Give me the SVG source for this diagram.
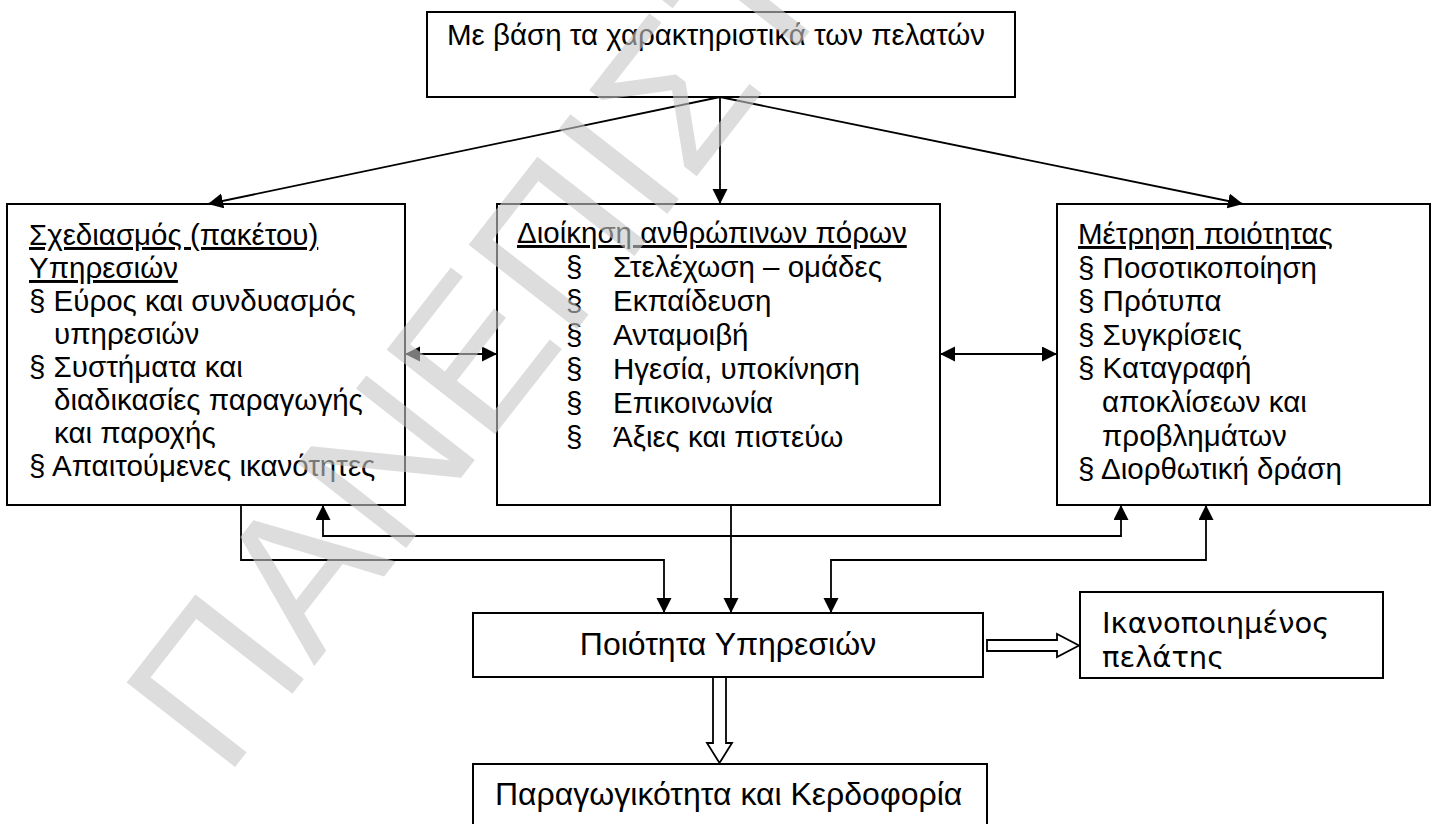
<svg xmlns="http://www.w3.org/2000/svg" width="1436" height="824" viewBox="0 0 1436 824">
<style>
.box{fill:#fff;stroke:#000;stroke-width:2}
.t{font-family:"Liberation Sans",Arial,sans-serif;font-size:29.5px;fill:#000}
.big{font-size:32px}
.u{text-decoration:underline}
.ik{font-family:"DejaVu Sans",sans-serif;font-size:29px;fill:#000}
.ln{fill:none;stroke:#000;stroke-width:1.8}
.hol{fill:#fff;stroke:#000;stroke-width:1.8;stroke-linejoin:miter}
.wm{font-family:"Liberation Sans",Arial,sans-serif;font-size:200px;fill:#c8c8c8;opacity:0.6}
</style>
<defs>
<marker id="ah" markerUnits="userSpaceOnUse" markerWidth="16" markerHeight="16" refX="15" refY="7.5" orient="auto-start-reverse">
<path d="M0,0 L15,7.5 L0,15 z" fill="#000"/>
</marker>
<clipPath id="clipIk"><rect x="1080" y="592" width="303" height="77"/></clipPath>
</defs>
<rect width="1436" height="824" fill="#fff"/>

<g id="node-customers">
<rect class="box" x="427" y="12" width="588" height="85"/>
<text class="t" x="447" y="45">Με βάση τα χαρακτηριστικά των πελατών</text>
</g>

<g id="node-design">
<rect class="box" x="7" y="204" width="398" height="301"/>
<text class="t u" x="29" y="245">Σχεδιασμός (πακέτου)</text>
<text class="t u" x="29" y="278">Υπηρεσιών</text>
<text class="t" x="29" y="311">§ Εύρος και συνδυασμός</text>
<text class="t" x="54" y="344">υπηρεσιών</text>
<text class="t" x="29" y="377">§ Συστήματα και</text>
<text class="t" x="54" y="410">διαδικασίες παραγωγής</text>
<text class="t" x="54" y="443">και παροχής</text>
<text class="t" x="29" y="476">§ Απαιτούμενες ικανότητες</text>
</g>

<g id="node-hr">
<rect class="box" x="497" y="204" width="443" height="301"/>
<text class="t u" x="517" y="243">Διοίκηση ανθρώπινων πόρων</text>
<text class="t" x="566" y="277">§</text><text class="t" x="613" y="277">Στελέχωση – ομάδες</text>
<text class="t" x="566" y="311">§</text><text class="t" x="613" y="311">Εκπαίδευση</text>
<text class="t" x="566" y="345">§</text><text class="t" x="613" y="345">Ανταμοιβή</text>
<text class="t" x="566" y="379">§</text><text class="t" x="613" y="379">Ηγεσία, υποκίνηση</text>
<text class="t" x="566" y="413">§</text><text class="t" x="613" y="413">Επικοινωνία</text>
<text class="t" x="566" y="447">§</text><text class="t" x="613" y="447">Άξιες και πιστεύω</text>
</g>

<g id="node-measure">
<rect class="box" x="1057" y="204" width="373" height="301"/>
<text class="t u" x="1078" y="244">Μέτρηση ποιότητας</text>
<text class="t" x="1078" y="278">§ Ποσοτικοποίηση</text>
<text class="t" x="1078" y="311">§ Πρότυπα</text>
<text class="t" x="1078" y="345">§ Συγκρίσεις</text>
<text class="t" x="1078" y="378">§ Καταγραφή</text>
<text class="t" x="1102" y="412">αποκλίσεων και</text>
<text class="t" x="1102" y="446">προβλημάτων</text>
<text class="t" x="1078" y="479">§ Διορθωτική δράση</text>
</g>

<g id="node-quality">
<rect class="box" x="473" y="613" width="510" height="64"/>
<text class="t big" x="728" y="655" text-anchor="middle">Ποιότητα Υπηρεσιών</text>
</g>

<g id="node-satisfied">
<rect class="box" x="1080" y="592" width="303" height="86"/>
<g clip-path="url(#clipIk)">
<text class="ik" x="1102" y="633">Ικανοποιημένος</text>
<text class="ik" x="1102" y="667">πελάτης</text>
</g>
</g>

<g id="node-productivity">
<rect class="box" x="473" y="764" width="514" height="62"/>
<text class="t big" x="495" y="805">Παραγωγικότητα και Κερδοφορία</text>
</g>

<g id="connectors">
<line class="ln" x1="720" y1="97" x2="208" y2="204" marker-end="url(#ah)"/>
<line class="ln" x1="720" y1="97" x2="720" y2="204" marker-end="url(#ah)"/>
<line class="ln" x1="720" y1="97" x2="1243" y2="204" marker-end="url(#ah)"/>
<line class="ln" x1="405" y1="354" x2="497" y2="354" marker-start="url(#ah)" marker-end="url(#ah)"/>
<line class="ln" x1="940" y1="354" x2="1057" y2="354" marker-start="url(#ah)" marker-end="url(#ah)"/>
<polyline class="ln" points="241,505 241,560 664,560 664,613" marker-end="url(#ah)"/>
<polyline class="ln" points="323,505 323,536 1121,536 1121,505" marker-start="url(#ah)" marker-end="url(#ah)"/>
<line class="ln" x1="731" y1="505" x2="731" y2="613" marker-end="url(#ah)"/>
<polyline class="ln" points="1206,505 1206,560 831,560 831,613" marker-start="url(#ah)" marker-end="url(#ah)"/>
<polygon class="hol" points="987,640 1057,640 1057,634 1079,645.5 1057,657 1057,651 987,651"/>
<polygon class="hol" points="713,677 726,677 726,743 732,743 719.5,763 707,743 713,743"/>
</g>

<text class="wm" transform="translate(225,780) rotate(-52)">ΠΑΝΕΠΙΣΤΗΜ</text>
</svg>
